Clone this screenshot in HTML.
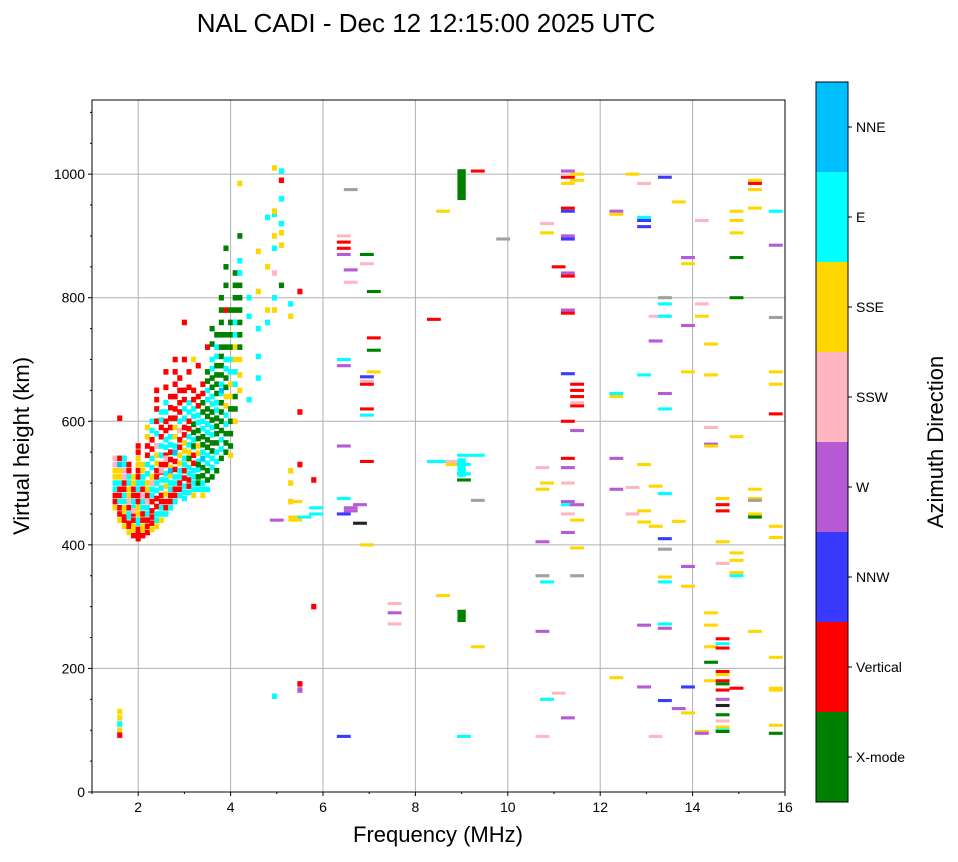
<!DOCTYPE html>
<html><head><meta charset="utf-8">
<style>
html,body{margin:0;padding:0;background:#fff;}
body{width:958px;height:857px;overflow:hidden;font-family:"Liberation Sans","DejaVu Sans",sans-serif;}
</style></head>
<body>
<svg id="chart" width="958" height="857" xmlns="http://www.w3.org/2000/svg" font-family="Liberation Sans, DejaVu Sans, sans-serif">
<text x="426" y="32" font-size="26" text-anchor="middle">NAL CADI - Dec 12 12:15:00 2025 UTC</text>
<g id="grid"></g>
<g id="marks"></g>
<rect x="92" y="100" width="693" height="692" fill="none" stroke="#000" stroke-width="1"/>
<g id="axes"></g>
<text x="438" y="842" font-size="22" text-anchor="middle">Frequency (MHz)</text>
<text transform="translate(29,446) rotate(-90)" font-size="22" text-anchor="middle">Virtual height (km)</text>
<g id="cbar"></g>
<text transform="translate(943,442) rotate(-90)" font-size="22" text-anchor="middle">Azimuth Direction</text>
</svg>
<script>
const dirNames = ["X-mode","Vertical","NNW","W","SSW","SSE","E","NNE"];
const dirColors = ["#008000","#ff0000","#3a3aff","#b65ad6","#ffb6c1","#ffd700","#00ffff","#00bfff"];
const xTicks = [2,4,6,8,10,12,14,16];
const yTicks = [0,200,400,600,800,1000];
// cluster columns: "freq|height+code ..." codes g r b p k y c n x(grey) z(black)
const clusterCols = [
"1.5|460y 470r 480r 490c 500c 510y 520y 530k 540k",
"1.6|440y 450r 460r 470c 480r 490r 500c 510y 520y 530n 540r 605r 130y 120y 110c 100y 92r",
"1.7|430y 440r 445r 455y 460y 470c 480c 490r 500r 510k 520k 530c 540c",
"1.8|420y 430r 435r 445c 450c 460r 470r 480y 490y 500c 510c 520r 530r 470k",
"1.9|415r 425y 430y 440r 450r 460c 470c 480r 490r 500y 510y 455k",
"2.0|410r 418r 425r 435c 440c 450y 460y 470r 480r 490c 500c 510r 520r 530y 540y 550r 560r",
"2.1|415r 425y 430y 440r 450r 460c 470c 480r 490r 500c 510c 520y 530y 480k",
"2.2|420r 430r 440r 450c 460c 470r 480r 490y 500y 515c 530c 545r 560r 575y 590y 470k",
"2.3|425y 435r 445r 455r 470r 480c 490c 500y 510y 525c 540c 555r 570r 585c 600c 500k",
"2.4|430y 440c 450c 462r 475r 488c 500c 510r 520r 532y 545y 560c 580c 600r 620r 635r 650r 560k",
"2.5|440y 450c 460c 470r 480r 492c 505c 518r 530r 545c 560c 575r 590r 602c 615c 520k",
"2.6|450c 460r 470r 482y 495y 505c 515c 530r 545r 558c 570c 585r 600r 615c 630c 655r 680r 540k",
"2.7|460c 470r 480r 490c 500c 512y 525y 538r 550r 562c 575c 590r 605r 622r 640r 520n",
"2.8|470c 480r 490r 500c 510c 522r 535r 548c 560c 575y 590y 605r 620r 640r 660r 680r 700r 550n",
"2.9|480c 490r 500r 510c 520c 532y 545y 558r 570r 585c 600c 615r 630r 650r 670r 585k",
"3.0|475c 485c 495c 508r 520r 530c 540c 552y 565y 578r 590r 605c 620c 635r 650r 700r 760r",
"3.1|485c 495r 505r 515c 525c 538y 550y 562c 575c 588r 600r 615c 630c 655r 680r 540g",
"3.2|480y 490c 500c 510c 520c 532r 545r 558c 570c 582g 595g 608c 620c 635r 650r 700y 560g",
"3.3|490c 500g 510g 522c 535c 548y 560y 572g 585g 598c 610c 625r 640r 690r 530g",
"3.4|480y 490c 500c 512g 525g 538c 550c 562g 575g 588c 600c 615g 630g 645r 660r 540n",
"3.5|490c 505g 520g 532c 545c 558g 570g 582c 595c 608g 620g 635c 650c 665g 680g 720r",
"3.6|510g 525c 540c 552g 565g 578c 590c 602g 615g 628c 640c 655g 670g 685c 700c 725g 750g",
"3.7|520g 535c 550c 565g 580g 592g 605g 618c 630c 645g 660g 675g 690g 705c 720c 740g",
"3.8|540g 555c 570c 585g 600g 615g 630g 645c 660c 675g 690g 705g 720g 740g 760g 780g 800g 650n",
"3.9|550g 565g 580g 595c 610c 625y 640y 655g 670g 685c 700c 720g 740g 780r 820g 850g 880g",
"4.0|545y 560g 580g 600g 620g 640y 660y 680c 700c 720g 740g 760g 780g 680c",
"4.1|600y 620g 640g 660c 680c 700y 720y 740c 760c 780g 800g 820g 840g",
"4.2|650y 675y 700y 720g 740g 760g 780g 800g 820g 840c 860c 900g 985y",
"4.4|635c 770c 800c",
"4.6|670c 705c 750c 810y 875y",
"4.8|760c 780y 850y 930c",
"4.95|780y 800c 840k 880c 900y 935c 940y 1010y 155c",
"5.1|820g 920c 960c 990r 1005c 905y 885y",
"5.3|770y 790c 500y 520y 470y",
"5.5|530r 615r 810r 175r 165p",
"5.8|505r 300r"
];
// wide marks: "freq|height+code ..." 
const wideCols = [
"5.0|440p",
"5.4|440y 445y 470y",
"5.6|445c",
"5.85|450c 460c",
"6.45|700c 690p 560p 475c 890r 900k 880r 870p 450b 90b",
"6.6|975x 845p 825k 455p 460p",
"6.8|465p 435z",
"6.95|870g 855k 660r 665k 620r 610c 535r 672b 400y",
"7.1|810g 715g 735r 680y",
"7.55|305k 290p 272k",
"8.4|765r 535c",
"8.6|940y 318y 535c",
"8.8|535k 530y",
"9.05|545c 530c 515c 505g 90c",
"9.35|1005r 545c 235y 472x",
"9.9|895x",
"10.75|525k 490y 405p 350x 90k 260p",
"10.85|920k 905y 340c 150c 500y",
"11.1|850r 160k",
"11.3|1005p 995r 985y 945r 940b 900p 895b 840p 835r 780p 775r 677b 600r 540r 525p 500k 470p 465c 450k 420p 120p",
"11.5|1000y 660r 650r 640r 625r 630k 585p 465p 440y 395y 350x 990y",
"12.35|940p 935y 645c 640y 540p 490p 185y",
"12.7|1000y 493k 450k",
"12.95|985k 930c 925b 915b 675c 530y 455y 437y 270p 170p",
"13.2|430y 495y 730p 770k 90k",
"13.4|995b 800x 790c 770c 645p 620c 483c 410b 393x 348y 340c 272c 265p 148b",
"13.7|955y 438y 135p",
"13.9|865p 855y 755p 680y 365p 333y 170b 128y",
"14.2|925k 790k 770y 98y 95p",
"14.4|725y 675y 590k 563p 560y 290y 270y 235y 210g 180y",
"14.65|475y 465r 455r 405y 370k 248r 240c 233r 195r 190y 180r 175g 165r 150p 140z 125g 115k 105y 100c 98g",
"14.95|940y 925y 905y 865g 800g 575y 387y 375y 355y 350c 168r",
"15.35|990y 985r 975y 945y 490y 475y 472x 450y 445g 260y",
"15.8|940c 885p 768x 680y 660y 612r 430y 412y 218y 168y 165y 108y 95g"
];
const tallMarks = [[9.0,1008,958,0],[9.0,295,275,0],[9.0,540,510,6]];

const NS="http://www.w3.org/2000/svg";
const X0=92,X1=785,Y0=792,Y1=100,FMIN=1,FMAX=16,HMIN=0,HMAX=1120;
const xs=f=>X0+(f-FMIN)/(FMAX-FMIN)*(X1-X0);
const ys=h=>Y0-(h-HMIN)/(HMAX-HMIN)*(Y0-Y1);
const codeIdx={g:0,r:1,b:2,p:3,k:4,y:5,c:6,n:7};
const extra={x:"#a0a0a0",z:"#222"};
function mk(tag,attrs,parent){const e=document.createElementNS(NS,tag);for(const k in attrs)e.setAttribute(k,attrs[k]);parent.appendChild(e);return e;}
const grid=document.getElementById('grid'),axes=document.getElementById('axes'),marks=document.getElementById('marks'),cbar=document.getElementById('cbar');
xTicks.forEach(t=>{const x=xs(t);
 if(t<16){const l=mk('line',{x1:x,x2:x,y1:Y1,y2:Y0,stroke:'#b0b0b0','stroke-width':1},grid);}
 const tk=mk('line',{x1:x,x2:x,y1:Y0,y2:Y0+4,stroke:'#000'},axes);
 const tx=mk('text',{x:x,y:Y0+20,'font-size':14,'text-anchor':'middle'},axes);tx.textContent=t;});
for(let t=1;t<16;t+=2){const x=xs(t);const m=mk('line',{x1:x,x2:x,y1:Y0,y2:Y0+2,stroke:'#000'},axes);}
yTicks.forEach(t=>{const y=ys(t);
 if(t>0){const l=mk('line',{x1:X0,x2:X1,y1:y,y2:y,stroke:'#b0b0b0','stroke-width':1},grid);}
 const tk=mk('line',{x1:X0-4,x2:X0,y1:y,y2:y,stroke:'#000'},axes);
 const tx=mk('text',{x:X0-7,y:y+5,'font-size':14,'text-anchor':'end'},axes);tx.textContent=t;});
for(let t=50;t<1120;t+=50){if(t%200===0)continue;const y=ys(t);const m=mk('line',{x1:X0-2,x2:X0,y1:y,y2:y,stroke:'#000'},axes);}
function drawCols(cols,w,hh,name){cols.forEach(s=>{const [fs,rest]=s.split('|');const f=parseFloat(fs);
 rest.trim().split(/\s+/).forEach(tok=>{const h=parseFloat(tok);const c=tok.slice(-1);
  const col=c in codeIdx?dirColors[codeIdx[c]]:extra[c];
  const r=mk('rect',{x:xs(f-w/2),y:ys(h+hh/2),width:xs(f+w/2)-xs(f-w/2),height:ys(h-hh/2)-ys(h+hh/2),fill:col},marks);
  
  });});}
drawCols(clusterCols,0.11,9,'echo-mark');
drawCols(wideCols,0.3,5,'echo-mark');
tallMarks.forEach(m=>{const r=mk('rect',{x:xs(m[0]-0.09),y:ys(m[1]),width:xs(m[0]+0.09)-xs(m[0]-0.09),height:ys(m[2])-ys(m[1]),fill:dirColors[m[3]]},marks);
 
 });
// colorbar
const CX=816,CW=32,CT=82,CB=802,seg=(CB-CT)/dirNames.length;
dirNames.forEach((n,i)=>{const y=CB-(i+1)*seg;
 const r=mk('rect',{x:CX,y:y,width:CW,height:seg,fill:dirColors[i]},cbar);
 const tk=mk('line',{x1:CX+CW,x2:CX+CW+4,y1:y+seg/2,y2:y+seg/2,stroke:'#000'},cbar);
 const t=mk('text',{x:CX+CW+8,y:y+seg/2+5,'font-size':14},cbar);t.textContent=n;});
const fr=mk('rect',{x:CX,y:CT,width:CW,height:CB-CT,fill:'none',stroke:'#000'},cbar);
</script>
</body></html>
